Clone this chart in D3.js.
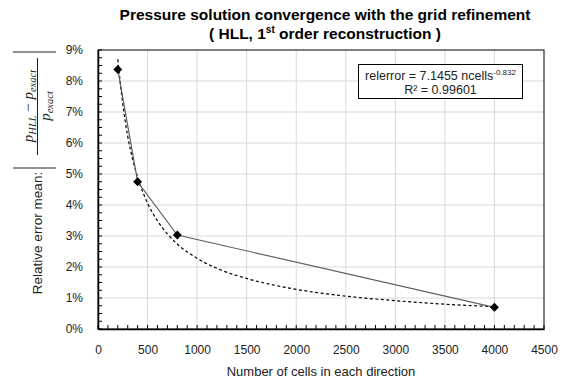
<!DOCTYPE html>
<html>
<head>
<meta charset="utf-8">
<script src="https://cdn.jsdelivr.net/npm/d3@7"></script>
<style>
  html, body { margin: 0; padding: 0; background: #fff; }
  svg { display: block; font-family: Arial, "Liberation Sans", sans-serif; }
</style>
</head>
<body>
<svg id="chart" width="567" height="381"></svg>
<script>
// ---- data ----
const cells = [200, 400, 800, 4000];
const relError = [0.0837, 0.0475, 0.0303, 0.0070];
// power trendline
const fitCells = [200, 250, 300, 350, 400, 500, 600, 700, 800, 1000, 1250, 1500, 2000, 2500, 3000, 3500, 4000];
const fitError = [0.0870, 0.0726, 0.0621, 0.0547, 0.0489, 0.0406, 0.0349, 0.0307, 0.0274, 0.0228, 0.0189, 0.0163, 0.0128, 0.0106, 0.00915, 0.0080, 0.0072];
const xTicks = [0, 500, 1000, 1500, 2000, 2500, 3000, 3500, 4000, 4500];
const yTicks = [0, 0.01, 0.02, 0.03, 0.04, 0.05, 0.06, 0.07, 0.08, 0.09];
const titleLine1 = "Pressure solution convergence with the grid refinement";
const xTitle = "Number of cells in each direction";
const eqText = "relerror = 7.1455 ncells";
const eqExp = "-0.832";
const r2Text = "R² = 0.99601";

// ---- layout ----
const svg = d3.select("#chart");
const L = 98, R = 544, T = 50, B = 329;
const x = d3.scaleLinear().domain([0, 4500]).range([L, R]);
const y = d3.scaleLinear().domain([0, 0.09]).range([B, T]);

// gridlines
const grid = svg.append("g");
grid.selectAll("line.gx").data(xTicks.slice(1, -1)).join("line")
  .attr("x1", d => x(d)).attr("x2", d => x(d)).attr("y1", T).attr("y2", B)
  .attr("stroke", "#d9d9d9").attr("stroke-width", 1);
grid.selectAll("line.gy").data(yTicks.slice(1, -1)).join("line")
  .attr("x1", L).attr("x2", R).attr("y1", d => y(d)).attr("y2", d => y(d))
  .attr("stroke", "#d9d9d9").attr("stroke-width", 1);

// border (top/right)
svg.append("rect").attr("x", L).attr("y", T).attr("width", R - L).attr("height", B - T)
  .attr("fill", "none").attr("stroke", "#000").attr("stroke-width", 1);

// minor ticks inside
const xMinor = d3.range(0, 4501, 100);
const yMinor = d3.range(0, 0.0901, 0.0025);
svg.append("g").selectAll("line").data(xMinor).join("line")
  .attr("x1", d => x(d)).attr("x2", d => x(d)).attr("y1", B).attr("y2", B - 4)
  .attr("stroke", "#000").attr("stroke-width", 1);
svg.append("g").selectAll("line").data(yMinor).join("line")
  .attr("x1", L).attr("x2", L + 4).attr("y1", d => y(d)).attr("y2", d => y(d))
  .attr("stroke", "#000").attr("stroke-width", 1);

// axes
const xAxis = svg.append("g").attr("transform", `translate(0,${B})`)
  .call(d3.axisBottom(x).tickValues(xTicks).tickSize(0).tickPadding(16).tickFormat(d3.format("d")));
const yAxis = svg.append("g").attr("transform", `translate(${L},0)`)
  .call(d3.axisLeft(y).tickValues(yTicks).tickSize(0).tickPadding(15).tickFormat(d3.format(".0%")));
[xAxis, yAxis].forEach(a => {
  a.select(".domain").attr("stroke", "#000").attr("stroke-width", 1.5);
  a.selectAll("text").attr("font-size", 12).attr("fill", "#222")
    .attr("font-family", "Arial, 'Liberation Sans', sans-serif");
});

// fit line (dashed)
const fitData = fitCells.map((c, i) => [c, fitError[i]]);
svg.append("path").datum(fitData)
  .attr("d", d3.line().x(d => x(d[0])).y(d => y(d[1])).curve(d3.curveMonotoneX))
  .attr("fill", "none").attr("stroke", "#000").attr("stroke-width", 1.2)
  .attr("stroke-dasharray", "3,2.5");

// series line
const data = cells.map((c, i) => [c, relError[i]]);
svg.append("path").datum(data)
  .attr("d", d3.line().x(d => x(d[0])).y(d => y(d[1])))
  .attr("fill", "none").attr("stroke", "#606060").attr("stroke-width", 1.2);

// markers (diamonds)
svg.append("g").selectAll("path").data(data).join("path")
  .attr("transform", d => `translate(${x(d[0])},${y(d[1])})`)
  .attr("d", "M0,-4.5L4.5,0L0,4.5L-4.5,0Z")
  .attr("fill", "#000");

// title
const title = svg.append("text").attr("text-anchor", "middle")
  .attr("font-weight", "bold").attr("font-size", 15.5).attr("fill", "#000");
title.append("tspan").attr("x", 325).attr("y", 20).text(titleLine1);
const t2 = title.append("tspan").attr("x", 325).attr("y", 39);
t2.append("tspan").text("( HLL, 1");
t2.append("tspan").attr("font-size", 10).attr("dy", -6).text("st");
t2.append("tspan").attr("dy", 6).text(" order reconstruction )");

// x title
svg.append("text").attr("x", (L + R) / 2).attr("y", 376).attr("text-anchor", "middle")
  .attr("font-size", 13).attr("fill", "#222").text(xTitle);

// y title (rotated)
const yt = svg.append("g").attr("transform", "rotate(-90)");
yt.append("text").attr("x", -233).attr("y", 42).attr("text-anchor", "middle")
  .attr("font-size", 13.5).attr("fill", "#222").text("Relative error mean:");
// absolute value bars
[-168, -52].forEach(v => yt.append("line")
  .attr("x1", v).attr("x2", v).attr("y1", 13).attr("y2", 56)
  .attr("stroke", "#222").attr("stroke-width", 1));
// fraction
const serif = "'Liberation Serif', 'DejaVu Serif', serif";
const num = yt.append("text").attr("x", -106).attr("y", 33).attr("text-anchor", "middle")
  .attr("font-family", serif).attr("font-style", "italic").attr("font-size", 15).attr("fill", "#222");
num.append("tspan").text("p");
num.append("tspan").attr("font-size", 10.5).attr("dy", 3).text("HLL");
num.append("tspan").attr("dy", -3).attr("font-style", "normal").text(" − ");
num.append("tspan").text("p");
num.append("tspan").attr("font-size", 10.5).attr("dy", 3).text("exact");
yt.append("line").attr("x1", -155).attr("x2", -58).attr("y1", 37.5).attr("y2", 37.5)
  .attr("stroke", "#222").attr("stroke-width", 1);
const den = yt.append("text").attr("x", -106).attr("y", 50).attr("text-anchor", "middle")
  .attr("font-family", serif).attr("font-style", "italic").attr("font-size", 15).attr("fill", "#222");
den.append("tspan").text("p");
den.append("tspan").attr("font-size", 10.5).attr("dy", 3).text("exact");

// equation box
svg.append("rect").attr("x", 358.5).attr("y", 64.5).attr("width", 164).attr("height", 34)
  .attr("fill", "#fff").attr("stroke", "#000").attr("stroke-width", 1);
const eq = svg.append("text").attr("x", 440.5).attr("y", 80).attr("text-anchor", "middle")
  .attr("font-size", 12.5).attr("fill", "#222");
eq.append("tspan").text(eqText);
eq.append("tspan").attr("font-size", 8).attr("dy", -5).text(eqExp);
svg.append("text").attr("x", 440.5).attr("y", 94).attr("text-anchor", "middle")
  .attr("font-size", 12.5).attr("fill", "#222").text(r2Text);
</script>
</body>
</html>
